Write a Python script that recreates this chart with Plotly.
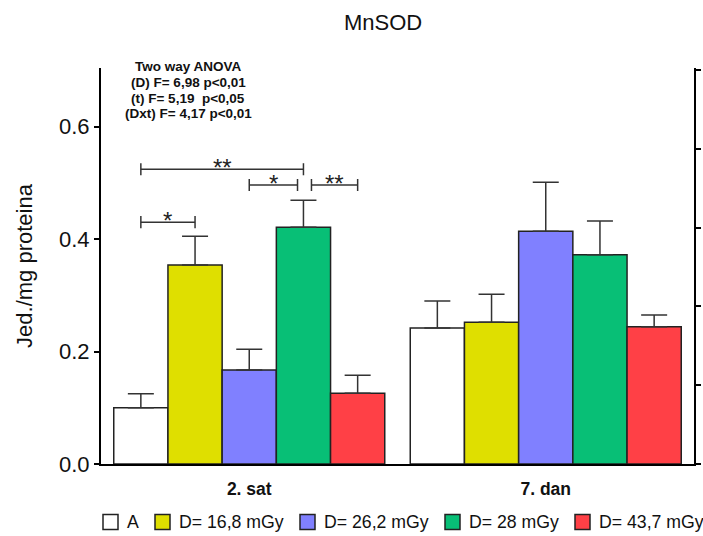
import plotly.graph_objects as go

# ---------------- data ----------------
categories = ["2. sat", "7. dan"]
series_names = ["A", "D= 16,8 mGy", "D= 26,2 mGy", "D= 28 mGy", "D= 43,7 mGy"]
series_colors = ["#FFFFFF", "#DFDF00", "#8080FF", "#08BF76", "#FF4046"]

mean_A = [0.100, 0.242]
mean_168 = [0.354, 0.252]
mean_262 = [0.167, 0.414]
mean_28 = [0.421, 0.372]
mean_437 = [0.126, 0.244]

sem_A = [0.025, 0.048]
sem_168 = [0.051, 0.050]
sem_262 = [0.037, 0.087]
sem_28 = [0.048, 0.060]
sem_437 = [0.032, 0.021]

means = [mean_A, mean_168, mean_262, mean_28, mean_437]
sems = [sem_A, sem_168, sem_262, sem_28, sem_437]

y_ticks = [0.0, 0.2, 0.4, 0.6]
anova_lines = ["Two way ANOVA", "(D) F= 6,98 p<0,01", "(t) F= 5,19\u00a0\u00a0p<0,05", "(Dxt) F= 4,17 p<0,01"]

# significance brackets: (group, left series, right series, level, label, left nudge, right nudge)
bracket_groups = [0, 0, 0, 0]
bracket_left = [0, 0, 2, 3]
bracket_right = [1, 3, 3, 4]
bracket_level = [0.430, 0.524, 0.496, 0.496]
bracket_label = ["*", "**", "*", "**"]
bracket_nudge_l = [0.0, 0.0, 0.0, 0.027]
bracket_nudge_r = [0.0, 0.0, -0.02, 0.0]

# ---------------- layout constants (pixels) ----------------
W, H = 703, 536
ML, MR, MT, MB = 101, 9, 68, 72
PW, PH = W - ML - MR, H - MT - MB
FONT = "Liberation Sans, Arial, sans-serif"
BARGAP = 0.086
legend_box_x = [103, 155, 300, 445, 575]   # left edge of each legend swatch
legend_y = 522
legend_box = 15
anova_center_x = 188
anova_line_y = [66, 82, 98, 113]


def px_x(x):
    return (x - ML) / PW


def px_y(y):
    return (H - MB - y) / PH


n_series = len(series_names)
bar_w = (1 - BARGAP) / n_series
group_x = list(range(len(categories)))

fig = go.Figure()
for name, color, m, s in zip(series_names, series_colors, means, sems):
    fig.add_trace(go.Bar(
        x=group_x, y=m, name=name, showlegend=False,
        marker=dict(color=color, line=dict(color="#222222", width=1.5)),
        error_y=dict(type="data", symmetric=False, array=s, arrayminus=[0] * len(s),
                     color="#333333", thickness=1.5, width=13),
    ))

# empty trace so the right-hand axis is drawn
fig.add_trace(go.Scatter(x=[], y=[], yaxis="y2", showlegend=False, hoverinfo="skip"))


def xpos(g, i):
    return g + (i - (n_series - 1) / 2) * bar_w


cap = 0.0107
shapes = []
annotations = []
for g, l, r, lev, lab, nl, nr in zip(bracket_groups, bracket_left, bracket_right, bracket_level,
                                     bracket_label, bracket_nudge_l, bracket_nudge_r):
    x0 = xpos(g, l) + nl
    x1 = xpos(g, r) + nr
    line = dict(color="#333333", width=1.5)
    shapes.append(dict(type="line", xref="x", yref="y", x0=x0, x1=x1, y0=lev, y1=lev, line=line))
    shapes.append(dict(type="line", xref="x", yref="y", x0=x0, x1=x0, y0=lev - cap, y1=lev + cap, line=line))
    shapes.append(dict(type="line", xref="x", yref="y", x0=x1, x1=x1, y0=lev - cap, y1=lev + cap, line=line))
    annotations.append(dict(x=(x0 + x1) / 2, y=lev, xref="x", yref="y", text=lab, showarrow=False,
                            yanchor="bottom", yshift=-14, font=dict(family=FONT, size=24, color="#222222")))

for txt, ly in zip(anova_lines, anova_line_y):
    annotations.append(dict(x=px_x(anova_center_x), y=px_y(ly), xref="paper", yref="paper", text=txt,
                            showarrow=False, xanchor="center", yanchor="middle",
                            font=dict(family=FONT, size=13.5, color="#111111", weight="bold")))

# manual legend
for name, color, bx in zip(series_names, series_colors, legend_box_x):
    shapes.append(dict(type="rect", xref="paper", yref="paper",
                       x0=px_x(bx), x1=px_x(bx + legend_box),
                       y0=px_y(legend_y + legend_box / 2), y1=px_y(legend_y - legend_box / 2),
                       fillcolor=color, line=dict(color="#222222", width=1.5)))
    annotations.append(dict(x=px_x(bx + legend_box + 7), y=px_y(legend_y), xref="paper", yref="paper",
                            text=name, showarrow=False, xanchor="left", yanchor="middle",
                            font=dict(family=FONT, size=17.7, color="#111111")))

fig.update_layout(
    width=W, height=H,
    margin=dict(l=ML, r=MR, t=MT, b=MB, autoexpand=False),
    paper_bgcolor="white", plot_bgcolor="white",
    barmode="group", bargap=BARGAP, bargroupgap=0,
    showlegend=False,
    font=dict(family=FONT, color="#111111"),
    title=dict(text="MnSOD", x=0.545, xref="container", y=0.959, yref="container",
               xanchor="center", yanchor="middle", font=dict(family=FONT, size=22, color="#111111")),
    xaxis=dict(range=[-0.5, 1.5], tickvals=group_x, ticktext=categories, showline=True,
               linecolor="black", linewidth=2, ticks="", showgrid=False, zeroline=False,
               ticklabelstandoff=8,
               tickfont=dict(family=FONT, size=17.5, weight="bold", color="#111111")),
    yaxis=dict(range=[0, 0.704], tickvals=y_ticks, tickformat=".1f", ticks="outside", ticklen=5,
               tickwidth=2, tickcolor="black", showline=True, linecolor="black", linewidth=2,
               showgrid=False, zeroline=False, tickfont=dict(family=FONT, size=22, color="#111111"),
               title=dict(text="Jed./mg proteina", standoff=20, font=dict(family=FONT, size=22, color="#111111"))),
    yaxis2=dict(overlaying="y", side="right", range=[0, 5.025], dtick=1, tick0=0, ticks="outside",
                ticklen=5, tickwidth=2, tickcolor="black", showticklabels=False, showline=True,
                linecolor="black", linewidth=2, showgrid=False, zeroline=False),
    shapes=shapes,
    annotations=annotations,
)

fig.write_html("out.html")
